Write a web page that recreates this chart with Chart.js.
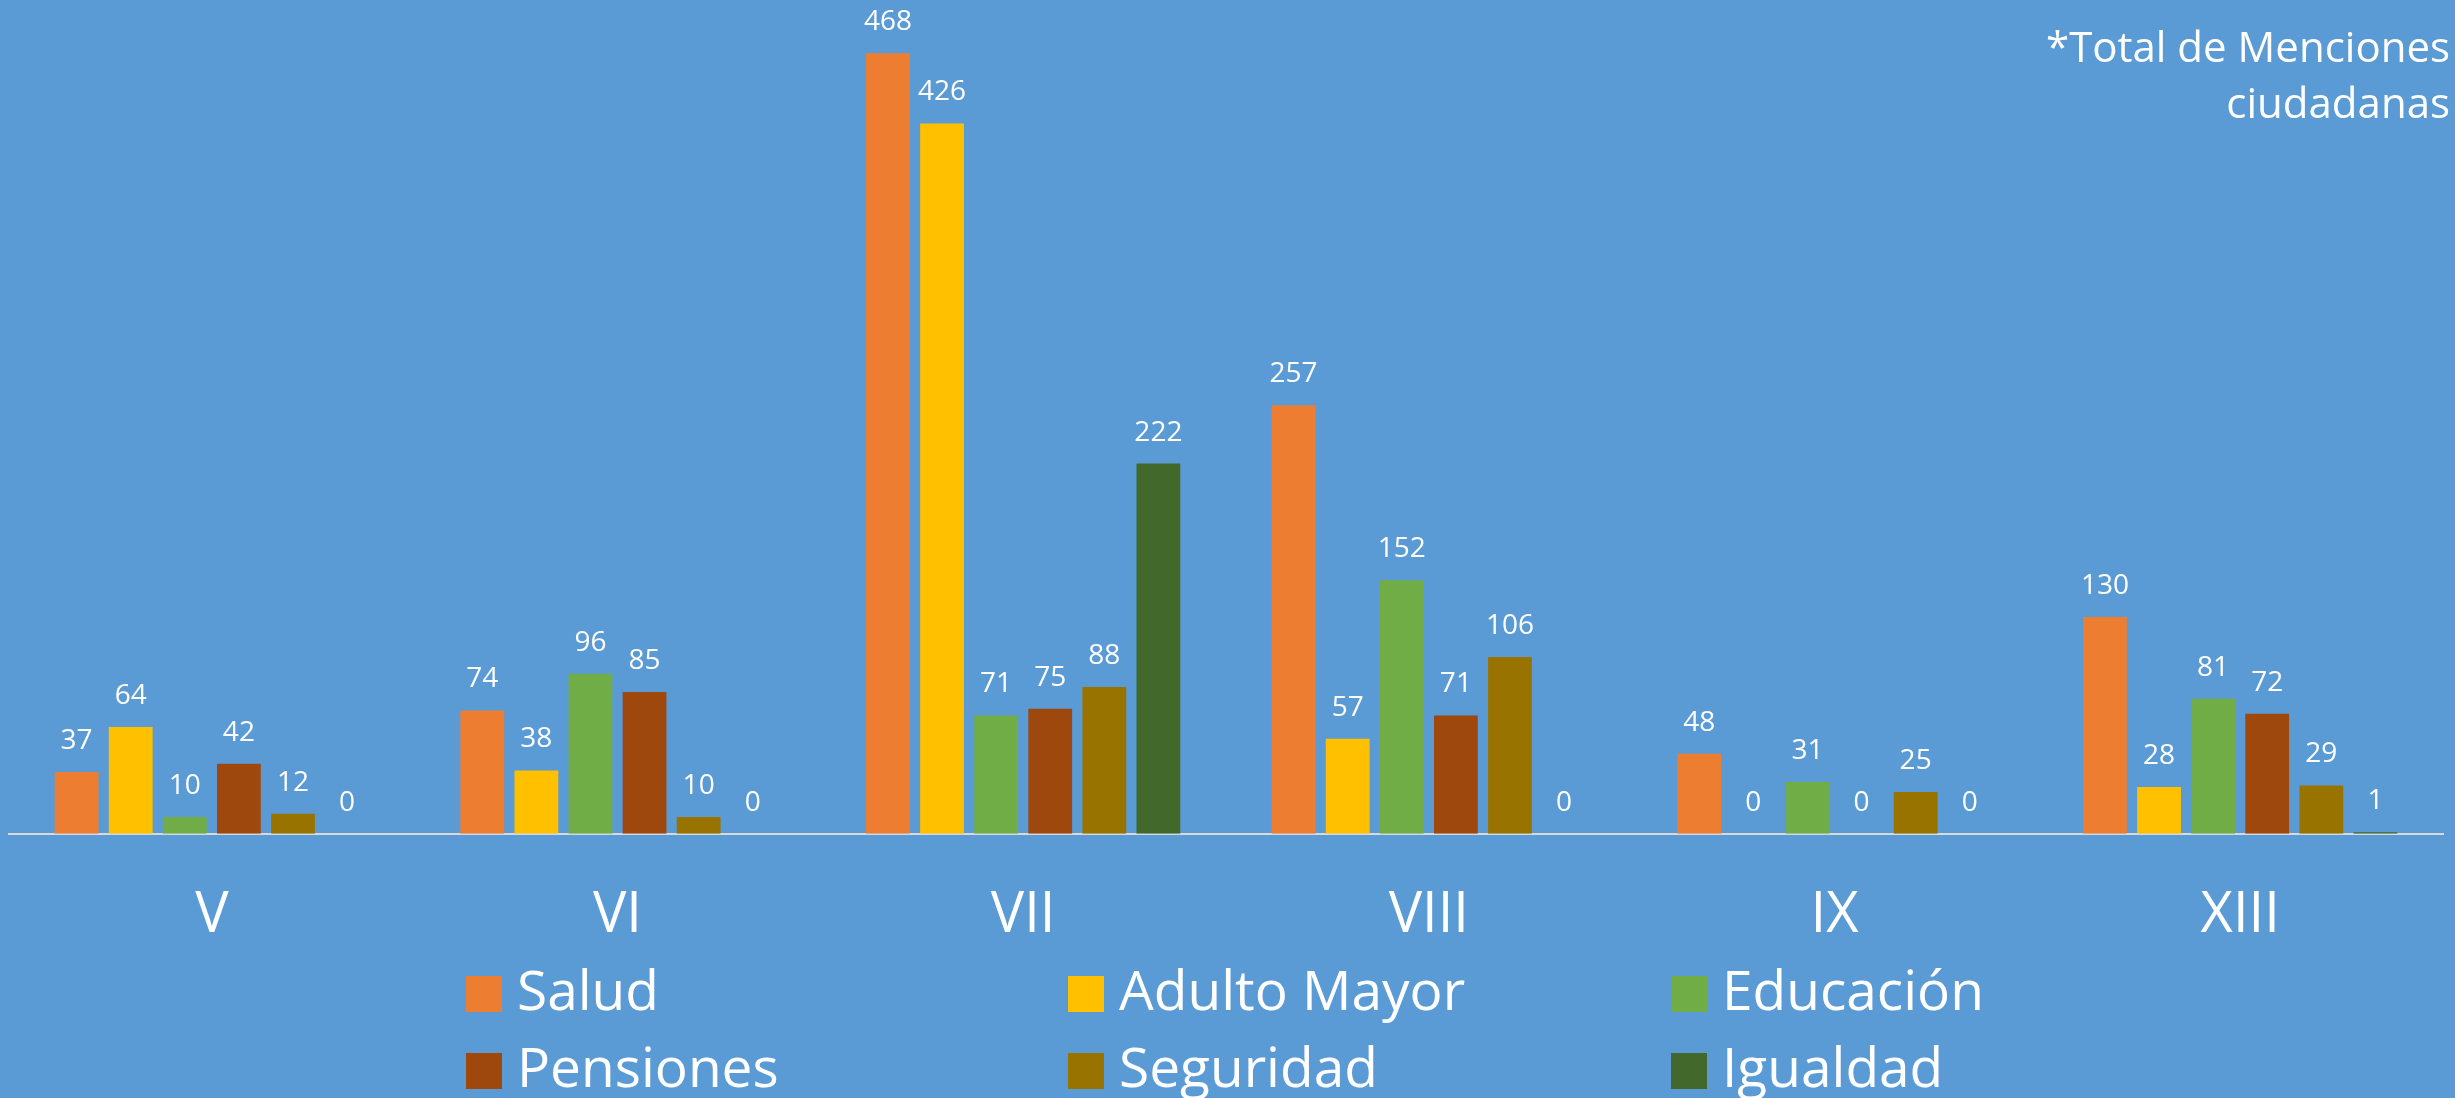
<!DOCTYPE html>
<html>
<head>
<meta charset="utf-8">
<script src="https://cdn.jsdelivr.net/npm/chart.js@4.4.0/dist/chart.umd.min.js"></script>
<style>
  html, body { margin: 0; padding: 0; background: #5B9BD5; }
  #wrap { width: 2455px; height: 1098px; }
</style>
</head>
<body>
<div id="wrap"><canvas id="chart"></canvas></div>
<script>
const regiones = ['V', 'VI', 'VII', 'VIII', 'IX', 'XIII'];
const salud = [37, 74, 468, 257, 48, 130];
const adultoMayor = [64, 38, 426, 57, 0, 28];
const educacion = [10, 96, 71, 152, 31, 81];
const pensiones = [42, 85, 75, 71, 0, 72];
const seguridad = [12, 10, 88, 106, 25, 29];
const igualdad = [0, 0, 222, 0, 0, 1];
const nota = ['*Total de Menciones', 'ciudadanas'];

const FONT = "'Open Sans', sans-serif";

// numbers over each bar + legend grid + note at top right
const decorPlugin = {
    id: 'decor',
    afterDatasetsDraw(chart) {
        const ctx = chart.ctx;
        ctx.save();
        ctx.fillStyle = '#ffffff';
        ctx.font = '28px ' + FONT;
        ctx.textAlign = 'center';
        ctx.textBaseline = 'middle';
        chart.data.datasets.forEach(function(ds, i) {
            chart.getDatasetMeta(i).data.forEach(function(bar, j) {
                ctx.fillText(String(ds.data[j]), bar.x, bar.y - 31);
            });
        });
        ctx.restore();
    },
    afterDraw(chart) {
        const ctx = chart.ctx;
        ctx.save();
        // legend, 3 columns x 2 rows
        const colX = [466, 1068, 1671];
        const rowY = [994, 1071];
        ctx.font = '55px ' + FONT;
        ctx.textBaseline = 'middle';
        ctx.textAlign = 'left';
        chart.data.datasets.forEach(function(ds, i) {
            const x = colX[i % 3];
            const y = rowY[Math.floor(i / 3)];
            ctx.fillStyle = ds.backgroundColor;
            ctx.fillRect(x, y - 18, 36, 36);
            ctx.fillStyle = '#ffffff';
            ctx.fillText(ds.label, x + 51, y);
        });
        // note
        ctx.font = '42px ' + FONT;
        ctx.textAlign = 'right';
        ctx.textBaseline = 'alphabetic';
        ctx.fillText(nota[0], 2450, 62);
        ctx.fillText(nota[1], 2450, 118);
        ctx.restore();
    }
};

new Chart(document.getElementById('chart'), {
    type: 'bar',
    data: {
        labels: regiones,
        datasets: [
            { label: 'Salud', data: salud, backgroundColor: '#ED7D31' },
            { label: 'Adulto Mayor', data: adultoMayor, backgroundColor: '#FFC000' },
            { label: 'Educación', data: educacion, backgroundColor: '#70AD47' },
            { label: 'Pensiones', data: pensiones, backgroundColor: '#9E480E' },
            { label: 'Seguridad', data: seguridad, backgroundColor: '#997300' },
            { label: 'Igualdad', data: igualdad, backgroundColor: '#43682B' }
        ]
    },
    options: {
        responsive: true,
        maintainAspectRatio: false,
        animation: false,
        layout: { padding: { left: 9, right: 12, top: 0, bottom: 99 } },
        datasets: { bar: { categoryPercentage: 0.8, barPercentage: 0.81 } },
        plugins: {
            legend: { display: false },
            tooltip: { enabled: false }
        },
        scales: {
            x: {
                grid: { display: false, drawTicks: false },
                border: { display: true, color: '#d9d9d9', width: 2 },
                ticks: { color: '#ffffff', padding: 49, font: { family: FONT, size: 56 } }
            },
            y: {
                display: false,
                min: 0,
                max: 500
            }
        }
    },
    plugins: [decorPlugin]
});
</script>
</body>
</html>
